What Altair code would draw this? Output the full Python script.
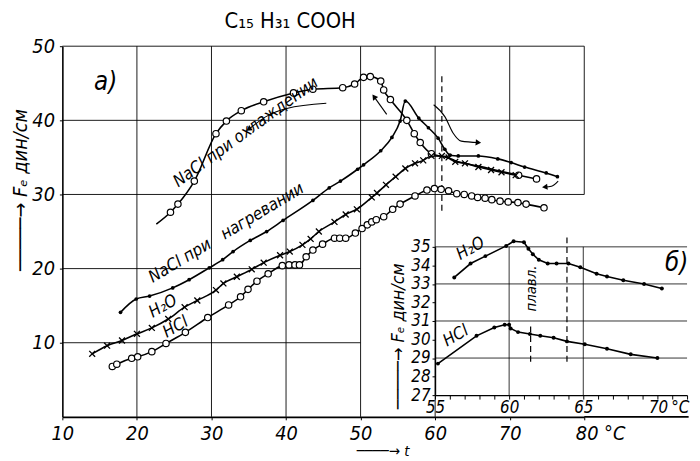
import math
import altair as alt
import pandas as pd

FONT = "Liberation Sans Narrow, DejaVu Sans Condensed, Liberation Sans, sans-serif"

# ---------------- panel a) : Fe (dyn/cm) vs t ----------------
cool_t = [22.6, 24.5, 25.5, 27.7, 30.6, 32.0, 34.0, 37.0, 41.0, 43.6, 47.6, 49.2, 50.4, 51.3,
          52.7, 53.1, 54.0, 56.2, 57.2, 58.0, 59.5, 61.5, 63.5, 66.0, 68.5, 71.2, 73.6]
cool_F = [26.0, 27.6, 28.7, 31.8, 38.2, 39.9, 41.3, 42.5, 43.7, 44.2, 44.4, 44.9, 45.8, 45.9,
          45.3, 44.1, 42.8, 40.0, 38.2, 37.0, 35.5, 35.0, 34.3, 33.8, 33.2, 32.6, 32.1]
cool_m = ["-"] + ["o"] * 20 + ["-"] * 4 + ["o"] * 2

heat_t = [17.8, 19.9, 21.7, 24.8, 27.0, 29.7, 31.5, 32.9, 35.2, 37.4, 39.6, 43.6, 45.8, 47.3,
          49.6, 50.4, 52.7, 54.2, 55.3, 56.0, 57.8, 59.1, 60.4, 61.3, 62.0, 63.1, 65.8, 68.4,
          70.2, 72.0, 74.9, 76.4]
heat_F = [14.1, 15.9, 16.3, 17.4, 18.5, 20.1, 21.2, 22.3, 23.8, 25.0, 26.5, 29.2, 30.9, 31.8,
          33.4, 34.0, 35.9, 37.7, 39.9, 42.6, 40.3, 39.0, 37.6, 36.1, 35.3, 35.2, 35.2, 34.8,
          34.3, 33.7, 32.9, 32.4]
heat_m = ["d"] * len(heat_t)

h2o_t = [14.0, 16.0, 18.0, 20.0, 22.0, 24.2, 26.4, 28.1, 30.6, 31.6, 33.4, 35.4, 37.0, 39.2,
         40.5, 42.2, 43.3, 44.4, 46.5, 48.0, 49.5, 51.5, 52.2, 53.4, 54.7, 56.0, 57.3, 58.4,
         59.5, 60.9, 61.8, 62.7, 64.0, 65.8, 67.5, 68.9, 70.8]
h2o_F = [8.5, 9.6, 10.3, 11.2, 12.0, 13.2, 14.8, 15.7, 17.1, 18.0, 18.9, 19.9, 20.8, 21.8,
         22.3, 23.2, 24.0, 25.0, 26.3, 27.3, 28.0, 29.6, 30.2, 31.3, 32.4, 33.5, 34.2, 34.6,
         35.2, 35.2, 35.0, 34.4, 34.2, 33.7, 33.3, 33.0, 32.6]
h2o_m = ["x"] * len(h2o_t)

hcl_t = [16.7, 17.3, 19.3, 20.1, 22.0, 23.9, 26.5, 29.5, 32.3, 33.9, 34.9, 36.1, 37.6, 39.5,
         40.4, 41.2, 41.8, 42.7, 43.6, 44.9, 46.5, 47.2, 48.0, 49.3, 50.2, 50.9, 51.5, 52.1,
         53.1, 54.3, 55.3, 57.3, 58.9, 59.9, 60.8, 61.8, 62.9, 63.9, 64.9, 65.7, 66.7, 67.6,
         68.7, 69.8, 71.1, 72.2, 74.6]
hcl_F = [6.8, 7.1, 7.9, 8.1, 8.8, 9.9, 11.4, 13.4, 15.1, 16.2, 17.2, 18.3, 19.3, 20.4,
         20.5, 20.5, 20.5, 21.6, 22.5, 23.3, 24.1, 24.1, 24.1, 24.8, 25.4, 25.9, 26.3, 26.6,
         27.0, 28.0, 28.7, 29.8, 30.6, 30.8, 30.7, 30.5, 30.1, 30.0, 29.8, 29.6, 29.5, 29.3,
         29.1, 29.0, 28.9, 28.7, 28.2]
hcl_m = ["o"] * len(hcl_t)

# direction arrows drawn in panel a)
arrow_id = [1, 1, 1, 1, 2, 2, 3, 3, 3, 3, 3, 4, 4, 4]
arrow_t = [45.4, 40.1, 37.5, 35.0, 53.5, 51.8, 59.8, 61.3, 62.4, 63.5, 65.8, 76.5, 75.6, 74.7]
arrow_F = [42.3, 41.6, 40.6, 38.8, 40.8, 43.2, 42.1, 40.5, 38.3, 37.2, 37.0, 31.8, 31.1, 31.0]

# labels in panel a)
lab_text = ["a)", "NaCl при охлаждении", "NaCl при\u00a0\u00a0\u00a0нагревании", "H₂O", "HCl"]
lab_t = [15.8, 34.6, 32.0, 23.5, 25.2]
lab_F = [45.2, 38.4, 24.8, 14.9, 12.1]
lab_angle = [0, 324, 329, 330, 330]
lab_size = [26, 17, 17, 17, 17]

# melting mark (dashed) in panel a)
melt_t = [60.9]
melt_lo = [27.8]
melt_hi = [46.2]

# grid of panel a)
vgrid_t = [20, 30, 40, 50, 60, 70, 80]
vgrid_lo = [0, 0, 0, 0, 0, 30, 30]
hgrid_F = [10, 20, 30, 40, 50]
hgrid_hi = [50, 50, 80, 80, 80]

x_ticks = [10, 20, 30, 40, 50, 60, 70, 80]
y_ticks = [10, 20, 30, 40, 50]

# ---------------- inset б) ----------------
ins_h2o_t = [56.3, 57.4, 58.4, 59.8, 60.3, 61.0, 61.3, 61.6, 62.0, 62.6, 63.2, 64.0, 64.8,
             65.9, 66.6, 67.7, 69.1, 70.3]
ins_h2o_F = [33.35, 34.1, 34.5, 35.05, 35.3, 35.25, 34.9, 34.6, 34.3, 34.1, 34.1, 34.1, 33.9,
             33.55, 33.4, 33.2, 33.0, 32.75]
ins_hcl_t = [55.2, 57.8, 59.0, 59.7, 60.0, 60.1, 60.6, 61.4, 62.1, 63.0, 63.9, 65.1, 66.6,
             68.2, 70.0]
ins_hcl_F = [28.7, 30.2, 30.65, 30.8, 30.8, 30.6, 30.4, 30.3, 30.2, 30.1, 29.9, 29.75, 29.5,
             29.2, 29.0]

ins_lab_text = ["б)", "H₂O", "HCl", "плавл."]
ins_lab_t = [71.3, 57.4, 56.4, 61.45]
ins_lab_F = [34.1, 34.9, 30.2, 32.75]
ins_lab_angle = [0, 330, 330, 270]
ins_lab_size = [26, 17, 17, 15]

ins_dash_t = [61.45, 63.9]
ins_dash_lo = [28.8, 28.8]
ins_dash_hi = [30.7, 35.5]

ins_hgrid_F = [29, 31, 33, 35]
ins_vgrid_t = [60, 65]
ins_x_ticks = list(range(55, 73))
ins_y_ticks = [27, 28, 29, 30, 31, 32, 33, 34, 35]

# ---------------- tables ----------------
def series(name, ts, Fs, ms):
    return pd.DataFrame({"t": ts, "F": Fs, "s": name, "m": ms})

main_df = pd.concat([
    series("cool", cool_t, cool_F, cool_m),
    series("heat", heat_t, heat_F, heat_m),
    series("h2o", h2o_t, h2o_F, h2o_m),
    series("hcl", hcl_t, hcl_F, hcl_m),
], ignore_index=True)

arr_df = pd.DataFrame({"id": arrow_id, "t": arrow_t, "F": arrow_F, "o": range(len(arrow_t))})
PX_T, PX_F = 528 / 70, 7.5
heads = []
for k in sorted(set(arrow_id)):
    pts = arr_df[arr_df.id == k]
    t0, F0 = pts.t.iloc[-2], pts.F.iloc[-2]
    t1, F1 = pts.t.iloc[-1], pts.F.iloc[-1]
    ang = math.degrees(math.atan2(-(F1 - F0) * PX_F, (t1 - t0) * PX_T)) % 360
    heads.append({"t": t1, "F": F1, "ang": ang})
head_df = pd.DataFrame(heads)

lab_df = pd.DataFrame({"t": lab_t, "F": lab_F, "txt": lab_text, "ang": lab_angle, "sz": lab_size})
vgrid_df = pd.DataFrame({"t": vgrid_t, "F": vgrid_lo, "F2": [50] * len(vgrid_t)})
hgrid_df = pd.DataFrame({"F": hgrid_F, "t": [10] * len(hgrid_F), "t2": hgrid_hi})
melt_df = pd.DataFrame({"t": melt_t, "F": melt_lo, "F2": melt_hi})
axis_ext_df = pd.DataFrame({"t": [80], "t2": [94], "F": [0]})

ins_df = pd.concat([
    pd.DataFrame({"ti": ins_h2o_t, "Fi": ins_h2o_F, "s": "h2o"}),
    pd.DataFrame({"ti": ins_hcl_t, "Fi": ins_hcl_F, "s": "hcl"}),
], ignore_index=True)
ins_lab_df = pd.DataFrame({"ti": ins_lab_t, "Fi": ins_lab_F, "txt": ins_lab_text,
                           "ang": ins_lab_angle, "sz": ins_lab_size})
ins_dash_df = pd.DataFrame({"ti": ins_dash_t, "Fi": ins_dash_lo, "Fi2": ins_dash_hi})
ins_hgrid_df = pd.DataFrame({"Fi": ins_hgrid_F, "ti": [55] * 4, "ti2": [72] * 4})
ins_vgrid_df = pd.DataFrame({"ti": ins_vgrid_t, "Fi": [27] * 2, "Fi2": [35] * 2})

# ---------------- scales / axes ----------------
XS = alt.Scale(domain=[10, 80], range=[0, 528], nice=False, zero=False)
YS = alt.Scale(domain=[0, 50], nice=False, zero=False)
XI = alt.Scale(domain=[55, 72], range=[377, 632], nice=False, zero=False)
YI = alt.Scale(domain=[27, 35], range=[353, 203], nice=False, zero=False)

common = dict(labelFont=FONT, labelFontStyle="italic", labelColor="black",
              titleFont=FONT, titleFontStyle="italic", titleFontWeight="normal",
              titleColor="black", domainColor="black", tickColor="black", grid=False)

ARROW = "────→"
x_axis = alt.Axis(values=x_ticks, orient="bottom", tickSize=3, labelPadding=4, labelFontSize=20,
                  domainWidth=1.6,
                  labelExpr="datum.value == 80 ? '80 °C' : datum.label",
                  labelAlign={"condition": {"test": "datum.value == 80", "value": "left"}, "value": "center"},
                  labelOffset={"condition": {"test": "datum.value == 80", "value": -9}, "value": 0},
                  title=ARROW + "  t", titleFontSize=15, titleX=324, titleY=27,
                  titleAlign="center", titleBaseline="top", **common)
y_axis = alt.Axis(values=y_ticks, orient="left", tickSize=3, labelPadding=5, labelFontSize=20,
                  domainWidth=1.6,
                  title="─" + ARROW + "   Fₑ дин/см", titleFontSize=20, titleX=-42, titleY=145,
                  titleAngle=270, titleAlign="center", titleBaseline="middle", **common)
xi_axis = alt.Axis(values=ins_x_ticks, orient="bottom", offset=-22, tickSize=4, labelPadding=1,
                   labelFontSize=17, domainWidth=1.4,
                   labelExpr="datum.value % 5 == 0 ? (datum.value == 70 ? '70\u2009°C' : datum.label) : ''",
                   labelAlign={"condition": {"test": "datum.value == 70", "value": "left"}, "value": "center"},
                   labelOffset={"condition": {"test": "datum.value == 70", "value": -9}, "value": 0},
                   title=None, **common)
yi_axis = alt.Axis(values=ins_y_ticks, orient="left", offset=-377, tickSize=3, labelPadding=2,
                   labelFontSize=17, domainWidth=1.4,
                   title="─────→  Fₑ дин/см", titleFontSize=18, titleX=-37, titleY=293,
                   titleAngle=270, titleAlign="center", titleBaseline="middle", **common)

X = alt.X("t:Q", scale=XS, axis=x_axis)
Y = alt.Y("F:Q", scale=YS, axis=y_axis)
XI_ = alt.X("ti:Q", scale=XI, axis=xi_axis)
YI_ = alt.Y("Fi:Q", scale=YI, axis=yi_axis)

# ---------------- panel a) layers ----------------
vgrid = alt.Chart(vgrid_df).mark_rule(color="black", strokeWidth=0.9).encode(x=X, y=Y, y2="F2:Q")
hgrid = alt.Chart(hgrid_df).mark_rule(color="black", strokeWidth=0.9).encode(x=X, x2="t2:Q", y=Y)
axis_ext = alt.Chart(axis_ext_df).mark_rule(color="black", strokeWidth=1.6).encode(x=X, x2="t2:Q", y=Y)
melt = alt.Chart(melt_df).mark_rule(color="black", strokeWidth=1.2, strokeDash=[6, 4]).encode(
    x=X, y=Y, y2="F2:Q")
lines = alt.Chart(main_df).mark_line(color="black", strokeWidth=1.6, interpolate="monotone").encode(
    x=X, y=Y, detail="s:N")
circles = alt.Chart(main_df).transform_filter("datum.m == 'o'").mark_point(
    shape="circle", size=42, filled=True, fill="white", stroke="black", strokeWidth=1.2, opacity=1
).encode(x=X, y=Y)
dots = alt.Chart(main_df).transform_filter("datum.m == 'd'").mark_point(
    shape="circle", size=14, filled=True, color="black", opacity=1).encode(x=X, y=Y)
crosses = alt.Chart(main_df).transform_filter("datum.m == 'x'").mark_point(
    shape="M-1,-1L1,1M-1,1L1,-1", size=36, filled=False, stroke="black", strokeWidth=1.3, opacity=1
).encode(x=X, y=Y)
arrows = alt.Chart(arr_df).mark_line(color="black", strokeWidth=1.1, interpolate="monotone").encode(
    x=X, y=Y, detail="id:N", order="o:Q")
arrow_heads = alt.Chart(head_df).mark_point(shape="triangle-right", size=40, filled=True,
                                            color="black", opacity=1).encode(
    x=X, y=Y, angle=alt.Angle("ang:Q", scale=None))
labels = alt.Chart(lab_df).mark_text(font=FONT, fontStyle="italic", color="black").encode(
    x=X, y=Y, text="txt:N", angle=alt.Angle("ang:Q", scale=None), size=alt.Size("sz:Q", scale=None))

main = alt.layer(vgrid, hgrid, axis_ext, melt, lines, arrows, arrow_heads, circles, dots, crosses, labels)

# ---------------- inset б) layers ----------------
ihgrid = alt.Chart(ins_hgrid_df).mark_rule(color="black", strokeWidth=0.8).encode(x=XI_, x2="ti2:Q", y=YI_)
ivgrid = alt.Chart(ins_vgrid_df).mark_rule(color="black", strokeWidth=0.8).encode(x=XI_, y=YI_, y2="Fi2:Q")
idash = alt.Chart(ins_dash_df).mark_rule(color="black", strokeWidth=1.2, strokeDash=[6, 4]).encode(
    x=XI_, y=YI_, y2="Fi2:Q")
ilines = alt.Chart(ins_df).mark_line(color="black", strokeWidth=1.6).encode(x=XI_, y=YI_, detail="s:N")
idots = alt.Chart(ins_df).mark_point(shape="circle", size=16, filled=True, color="black", opacity=1).encode(
    x=XI_, y=YI_)
ilabels = alt.Chart(ins_lab_df).mark_text(font=FONT, fontStyle="italic", color="black").encode(
    x=XI_, y=YI_, text="txt:N", angle=alt.Angle("ang:Q", scale=None), size=alt.Size("sz:Q", scale=None))

inset = alt.layer(ihgrid, ivgrid, idash, ilines, idots, ilabels)

chart = alt.layer(main, inset).resolve_scale(x="independent", y="independent").properties(
    width=630, height=375,
    autosize=alt.AutoSizeParams(type="none"),
    padding={"left": 55, "top": 36, "right": 7, "bottom": 42},
    background="white",
    title=alt.TitleParams("C₁₅ H₃₁ COOH", anchor="start", dx=216, offset=3, fontSize=22,
                          font=FONT, fontWeight="normal", color="black"),
).configure_view(stroke=None)

chart.save("out.html", embed_options={"renderer": "svg", "actions": False})
